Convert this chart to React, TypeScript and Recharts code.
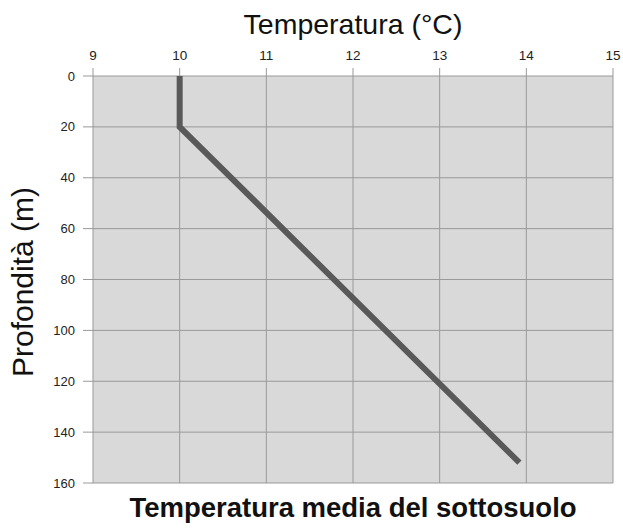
import { LineChart, Line, XAxis, YAxis, CartesianGrid } from "recharts";

const temperature = [10, 10, 13.92];
const depth = [0, 20, 152];
const xTicks = [9, 10, 11, 12, 13, 14, 15];
const yTicks = [0, 20, 40, 60, 80, 100, 120, 140, 160];

const data = temperature.map((t, i) => ({ t, d: depth[i] }));

const FONT = "'Liberation Sans', Arial, sans-serif";

export default function App() {
  return (
    <div style={{ position: "absolute", left: 0, top: 0, width: 623, height: 528, background: "#fff", fontFamily: FONT }}>
      <LineChart width={623} height={528} data={data} margin={{ top: 0, right: 10, bottom: 45, left: 0 }}>
        <CartesianGrid fill="#d9d9d9" stroke="#999" strokeWidth={1} horizontalValues={yTicks} verticalValues={xTicks} />
        <XAxis
          dataKey="t"
          type="number"
          orientation="top"
          domain={[9, 15]}
          ticks={xTicks}
          height={76}
          axisLine={false}
          tickLine={{ stroke: "#999" }}
          tickSize={8}
          tickMargin={8}
          tick={{ fill: "#222", fontSize: 13.5, fontFamily: FONT }}
        />
        <YAxis
          dataKey="d"
          type="number"
          reversed
          domain={[0, 160]}
          ticks={yTicks}
          width={93}
          axisLine={false}
          tickLine={{ stroke: "#999" }}
          tickSize={10}
          tickMargin={8}
          tick={{ fill: "#222", fontSize: 13, fontFamily: FONT }}
        />
        <Line
          dataKey="d"
          stroke="#595959"
          strokeWidth={6}
          dot={false}
          isAnimationActive={false}
        />
      </LineChart>
      <div style={{ position: "absolute", left: 93, width: 520, top: 8, textAlign: "center", fontSize: 28.5, color: "#111" }}>
        Temperatura (°C)
      </div>
      <div
        style={{
          position: "absolute",
          left: 23,
          top: 282,
          transform: "translate(-50%, -50%) rotate(-90deg)",
          whiteSpace: "nowrap",
          fontSize: 30,
          color: "#111",
        }}
      >
        Profondità (m)
      </div>
      <div style={{ position: "absolute", left: 93, width: 520, top: 492, textAlign: "center", fontSize: 27.5, fontWeight: "bold", color: "#111" }}>
        Temperatura media del sottosuolo
      </div>
    </div>
  );
}
